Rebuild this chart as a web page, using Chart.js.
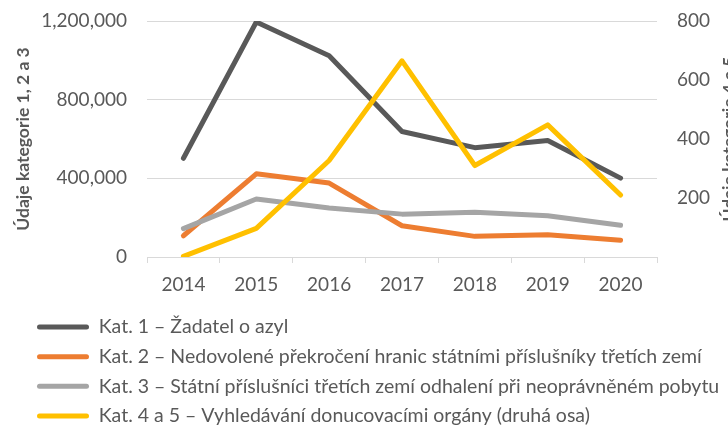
<!DOCTYPE html>
<html>
<head>
<meta charset="utf-8">
<script src="https://cdn.jsdelivr.net/npm/chart.js@4"></script>
<style>
  html, body { margin: 0; padding: 0; background: #ffffff; overflow: hidden; }
  #wrap { width: 728px; height: 425px; }
</style>
</head>
<body>
<div id="wrap"><canvas id="c" width="728" height="425"></canvas></div>
<script>
const years = ['2014', '2015', '2016', '2017', '2018', '2019', '2020'];
const kat1 = [502000, 1195000, 1023000, 638000, 556000, 592000, 401000];
const kat2 = [108000, 423000, 376000, 159000, 105000, 113000, 85000];
const kat3 = [144000, 295000, 249000, 218000, 227000, 210000, 161000];
const kat45 = [2, 97, 327, 665, 310, 448, 210];

const seriesLabels = [
  'Kat. 1 – Žadatel o azyl',
  'Kat. 2 – Nedovolené překročení hranic státními příslušníky třetích zemí',
  'Kat. 3 – Státní příslušníci třetích zemí odhalení při neoprávněném pobytu',
  'Kat. 4 a 5 – Vyhledávání donucovacími orgány (druhá osa)'
];
const leftTicks = [0, 400000, 800000, 1200000];
const rightTicks = [0, 200, 400, 600, 800];
const leftAxisTitle = 'Údaje kategorie 1, 2 a 3';
const rightAxisTitle = 'Údaje kategorie 4 a 5';

const TEXT = '#595959';
const GRID = '#d9d9d9';
const FONT = 'Lato';

function makeChart() {
  Chart.defaults.font.family = FONT;
  Chart.defaults.color = TEXT;

  const lineDs = (label, data, color, axis, order) => ({
    label, data, borderColor: color, backgroundColor: color,
    borderWidth: 5, pointRadius: 0, pointHoverRadius: 0,
    borderCapStyle: 'round', borderJoinStyle: 'round',
    tension: 0, yAxisID: axis, order
  });

  const rightTitlePlugin = {
    id: 'rightTitle',
    afterDraw(chart) {
      const { ctx, chartArea } = chart;
      const s = chart.scales.y2;
      ctx.save();
      ctx.translate(s.right + 1.5, (chartArea.top + chartArea.bottom) / 2);
      ctx.rotate(-Math.PI / 2);
      ctx.font = 'bold 17.5px ' + FONT;
      ctx.fillStyle = TEXT;
      ctx.textAlign = 'center';
      ctx.textBaseline = 'middle';
      ctx.fillText(rightAxisTitle, 0, 0);
      ctx.restore();
    }
  };

  new Chart(document.getElementById('c'), {
    type: 'line',
    data: {
      labels: years,
      datasets: [
        lineDs(seriesLabels[0], kat1, '#595959', 'y', 3),
        lineDs(seriesLabels[1], kat2, '#ED7D31', 'y', 2),
        lineDs(seriesLabels[2], kat3, '#A5A5A5', 'y', 1),
        lineDs(seriesLabels[3], kat45, '#FFC000', 'y2', 0)
      ]
    },
    plugins: [rightTitlePlugin],
    options: {
      responsive: false,
      animation: false,
      layout: { padding: { left: 26.8, right: 0, top: 21, bottom: 0 } },
      plugins: {
        tooltip: { enabled: false },
        legend: {
          position: 'bottom',
          align: 'start',
          maxHeight: 118,
          labels: {
            boxWidth: 52,
            boxHeight: 5,
            padding: 10.2,
            color: TEXT,
            font: { size: 19.5 },
            generateLabels: (chart) => chart.data.datasets.map((ds, i) => ({
              text: ds.label,
              fillStyle: ds.borderColor,
              strokeStyle: ds.borderColor,
              lineWidth: 0,
              borderRadius: 2.5,
              fontColor: TEXT,
              hidden: false,
              datasetIndex: i
            }))
          }
        }
      },
      scales: {
        x: {
          offset: true,
          grid: { offset: true, drawOnChartArea: false, drawTicks: true, tickLength: 6, color: GRID },
          border: { display: true, color: GRID, width: 1 },
          ticks: { padding: 10.6, font: { size: 19 }, color: TEXT, maxRotation: 0 },
          afterFit: (s) => { s.height = 50; }
        },
        y: {
          position: 'left',
          min: leftTicks[0], max: leftTicks[leftTicks.length - 1],
          afterBuildTicks: (s) => { s.ticks = leftTicks.map(v => ({ value: v })); },
          grid: { color: GRID, lineWidth: 1, drawTicks: true, tickLength: 20, tickColor: 'rgba(0,0,0,0)' },
          border: { display: false },
          ticks: {
            padding: 0, font: { size: 19 }, color: TEXT,
            callback: (v) => Number(v).toLocaleString('en-US')
          },
          title: {
            display: true, text: leftAxisTitle, color: TEXT,
            font: { size: 17.5, weight: 'bold' },
            padding: { top: -14, bottom: 0 }
          },
          afterFit: (s) => { s.width = 120.2; }
        },
        y2: {
          position: 'right',
          min: rightTicks[0], max: rightTicks[rightTicks.length - 1],
          afterBuildTicks: (s) => { s.ticks = rightTicks.map(v => ({ value: v })); },
          grid: { drawOnChartArea: false, drawTicks: true, tickLength: 20, tickColor: 'rgba(0,0,0,0)' },
          border: { display: false },
          ticks: {
            padding: 0, font: { size: 19 }, color: TEXT,
            callback: (v) => (v === 0 ? '' : String(v))
          },
          afterFit: (s) => { s.width = 71; }
        }
      }
    }
  });
}

if (document.fonts && document.fonts.load) {
  Promise.all([
    document.fonts.load('17px Lato'),
    document.fonts.load('bold 17px Lato')
  ]).then(makeChart, makeChart);
} else {
  makeChart();
}
</script>
</body>
</html>
